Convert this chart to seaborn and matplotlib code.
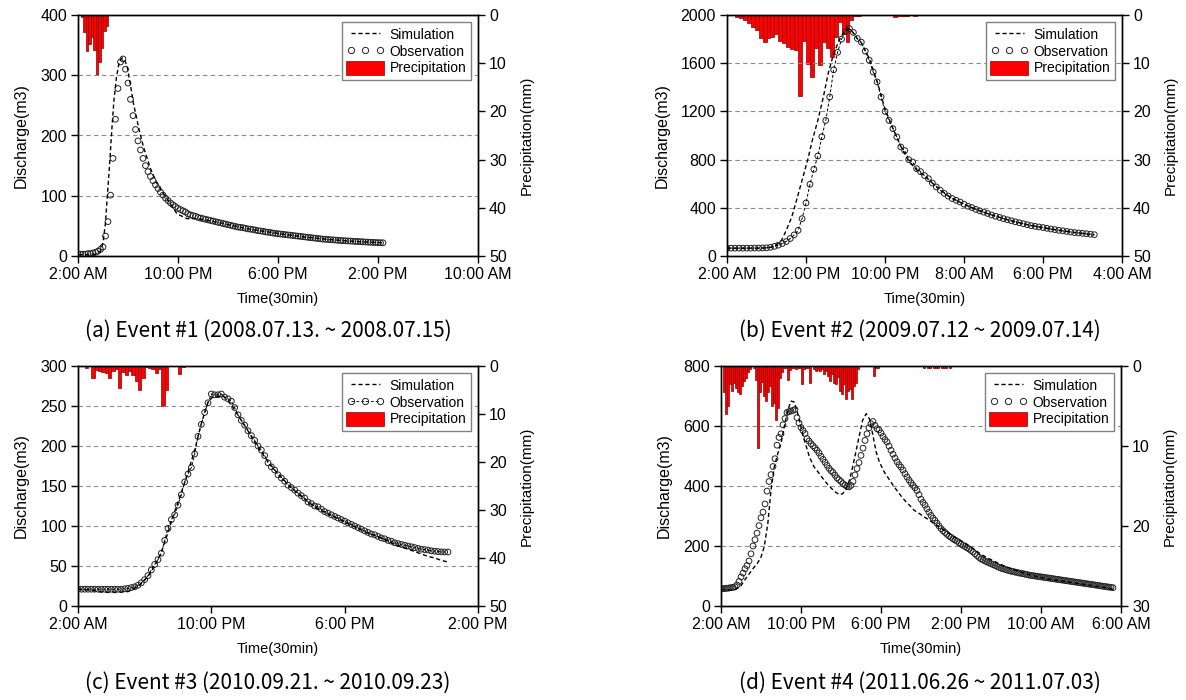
import numpy as np
import pandas as pd
import seaborn as sns
import matplotlib.pyplot as plt
from matplotlib.lines import Line2D
from matplotlib.patches import Patch

# ---- Event #1 (2008.07.13 ~ 2008.07.15), half-hourly observations from t=0 ----
a_obs = [3, 3, 3, 3, 4, 4, 5, 6, 8, 11, 15, 33, 57, 101, 162, 227, 278, 322, 327, 310,
         287, 260, 233, 210, 191, 176, 162, 150, 140, 132, 125, 118, 112, 106, 101, 96, 92, 88, 85, 82,
         79, 77, 75, 73, 70, 68, 67, 66, 64, 63, 62, 61, 60, 59, 58, 57, 56, 55, 54, 53,
         52, 51, 50, 49, 48, 47.5, 47, 46, 45, 44.5, 44, 43, 42, 41.5, 41, 40, 39.5, 39, 38, 37.5,
         37, 36.5, 36, 35.5, 35, 34.5, 34, 33.5, 33, 32.5, 32, 31.5, 31, 30.5, 30, 29.5, 29, 28.5, 28, 27.8,
         27.5, 27, 26.8, 26.5, 26, 25.8, 25.5, 25.2, 25, 24.8, 24.5, 24.2, 24, 23.8, 23.5, 23.3, 23, 22.8, 22.6, 22.4,
         22.2, 22, 22]
a_sim_t = [0, 2, 3.5, 4.5, 5, 5.5, 5.8, 6.3, 6.8, 7.2, 7.7, 8.2, 8.8, 9.3, 9.8, 10.5, 11.1, 12.1, 13.1, 14.5,
           15.8, 17.8, 19.8, 21.8, 24, 26, 28, 30, 34, 38, 42, 46, 50, 54, 58, 61]
a_sim_q = [2, 2, 3, 8, 22, 55, 92, 150, 214, 260, 297, 320, 329, 325, 316, 283, 253, 214, 181, 145,
           120, 95, 70, 62, 62, 59, 56, 52, 45, 40, 35, 31, 27.5, 25, 23, 22]
a_rain = [0, 0.5, 3.5, 7.5, 6.0, 4.5, 7.2, 12.5, 9.7, 6.9, 3.3, 2.3]
a_time_labels = ['2:00 AM', '10:00 PM', '6:00 PM', '2:00 PM', '10:00 AM']

# ---- Event #2 (2009.07.12 ~ 2009.07.14) ----
b_obs = [65, 65, 65, 65, 65, 65, 65, 66, 66, 67, 68, 72, 80, 90, 104, 120, 145, 175, 213, 310,
         440, 595, 720, 830, 990, 1125, 1320, 1545, 1690, 1800, 1862, 1887, 1855, 1805, 1775, 1700, 1625, 1527, 1445, 1320,
         1200, 1125, 1057, 988, 905, 875, 800, 780, 725, 700, 668, 642, 605, 573, 545, 520, 497, 477, 462, 448,
         430, 413, 402, 387, 375, 364, 353, 340, 330, 320, 310, 301, 292, 284, 276, 268, 260, 252, 246, 241,
         236, 230, 224, 219, 213, 209, 204, 199, 194, 191, 188, 185, 181, 177]
b_sim_t = [0, 4, 5, 5.5, 6.2, 6.9, 7.5, 8.2, 8.8, 9.5, 10.2, 10.8, 11.5, 12.2, 12.8, 13.5, 14.2, 14.8, 15.3, 15.7,
           16.4, 17, 18, 19, 20, 21, 22, 23, 24, 25, 26, 27, 28, 29, 30, 31, 32, 33, 34, 36,
           38, 40, 42, 44, 46.5]
b_sim_q = [65, 65, 67, 72, 88, 130, 213, 324, 462, 628, 794, 960, 1126, 1320, 1513, 1679, 1790, 1859, 1887, 1878,
           1810, 1770, 1640, 1450, 1220, 1060, 910, 790, 715, 665, 605, 550, 500, 462, 430, 402, 375, 352, 330, 292,
           260, 235, 213, 195, 175]
b_rain = [0, 0, 0.5, 0.7, 1.0, 1.7, 2.4, 3.1, 4.8, 5.7, 4.8, 4.5, 4.0, 5.4, 5.9, 6.6, 7.1, 7.3, 16.9, 5.4,
          10.2, 12.8, 6.9, 10.4, 5.5, 6.9, 8.8, 4.5, 1.4, 3.8, 5.7, 1.0, 0.3, 0.2, 0.1, 0, 0, 0, 0, 0,
          0, 0, 0.5, 0.3, 0.2, 0.2, 0, 0.3]
b_time_labels = ['2:00 AM', '12:00 PM', '10:00 PM', '8:00 AM', '6:00 PM', '4:00 AM']

# ---- Event #3 (2010.09.21 ~ 2010.09.23) ----
c_obs = [21, 21, 21, 21, 21, 21, 21, 21, 21, 21, 21, 21, 21, 21, 21.5, 22, 23, 24, 26, 29,
         33, 38, 45, 52, 58, 66, 82, 97, 108, 114, 126, 139, 155, 165, 173, 190, 212, 227, 242, 254,
         265, 264, 264, 265, 261, 259, 256, 248, 239, 232, 226, 219, 213, 207, 200, 195, 188, 179, 174, 170,
         164, 160, 156, 151, 148, 145, 141, 138, 135, 130, 128, 125, 124, 121, 118, 116, 114, 112, 110, 108,
         106, 104, 102, 100, 98, 96, 94, 92, 90, 89, 87, 85, 84, 82, 81, 79, 78, 77, 76, 75,
         74, 73, 72, 71, 70.5, 70, 69, 68.5, 68, 67.7, 67.5, 67.5]
c_sim_t = [0, 2, 3, 4, 6, 7.5, 8.5, 9.5, 10.5, 11.5, 12.5, 13.5, 14.5, 15.5, 16.5, 17.5, 18.5, 19.5, 20.3, 21,
           21.8, 22.5, 23.5, 24.5, 25.5, 26.5, 27.5, 28.5, 29.5, 30.5, 31.5, 32.5, 33.5, 34.5, 35.5, 36.5, 37.5, 38.5, 39.5, 40.5,
           41.5, 42.5, 43.5, 44.5, 45.5, 46.5, 47.5, 48.5, 49.5, 50.5, 51.5, 52.5, 53.5, 54.5, 55.5]
c_sim_q = [21, 20, 18, 17, 17, 18, 22, 28, 37, 50, 67, 92, 118, 142, 167, 195, 228, 255, 262, 262,
           262, 258, 245, 232, 219, 205, 192, 181, 170, 161, 152, 144, 137, 130, 124, 119, 115, 111, 107, 103,
           99, 95, 91, 88, 85, 81, 77, 74, 71, 68, 65, 62, 60, 57, 55]
c_rain = [0, 0, 0.4, 0, 2.4, 0.8, 1.0, 1.2, 1.5, 2.6, 1.0, 0.6, 4.6, 1.3, 1.9, 1.0, 1.9, 3.1, 5.1, 2.4,
          0.3, 0.5, 0.6, 1.5, 0.6, 8.4, 4.9, 0, 0, 0, 1.7, 0.3]
c_time_labels = ['2:00 AM', '10:00 PM', '6:00 PM', '2:00 PM']

# ---- Event #4 (2011.06.26 ~ 2011.07.03) ----
d_obs = [58, 58, 58, 59, 60, 61, 62, 64, 70, 82, 97, 110, 124, 135, 150, 174, 200, 221, 243, 268,
         294, 313, 340, 383, 415, 438, 465, 491, 536, 562, 574, 604, 625, 645, 648, 650, 652, 655, 628, 610,
         595, 585, 575, 558, 550, 541, 534, 527, 519, 510, 499, 489, 479, 469, 459, 451, 445, 436, 427, 421,
         415, 408, 403, 399, 397, 402, 415, 437, 458, 478, 502, 526, 552, 574, 594, 607, 615, 602, 591, 587,
         577, 565, 555, 547, 533, 519, 506, 493, 481, 471, 463, 453, 441, 430, 420, 411, 402, 394, 385, 371,
         356, 345, 336, 324, 313, 302, 293, 285, 276, 267, 258, 251, 245, 239, 233, 229, 224, 220, 216, 211,
         206, 202, 198, 194, 190, 185, 180, 174, 168, 162, 157, 154, 150, 147, 144, 141, 138, 135, 132, 129,
         126, 124, 122, 120, 118, 116, 115, 113, 112, 110, 109, 108, 106, 105, 103, 102, 101, 100, 99, 98,
         97, 96, 95, 94, 93, 92, 91, 90, 89, 88, 87, 86, 85, 84, 83, 82, 81, 80, 79, 78,
         77, 76, 75, 74, 73, 72, 71, 70, 69, 68, 67, 66, 65, 64, 63, 62, 61]
d_sim_t = [0, 1, 2, 3, 4, 5, 6, 7, 8, 9, 10, 10.8, 11.7, 12.5, 13.3, 14.2, 15, 15.8, 16.7, 17.5,
           18.3, 19.2, 20, 20.7, 21.3, 22.1, 23.3, 24.6, 25.8, 27.1, 28.3, 29.6, 30.4, 31.3, 32.1, 32.9, 33.8, 34.6, 35.4, 36.3,
           37.1, 37.9, 38.8, 39.6, 40.8, 42.1, 43.3, 44.6, 45.8, 47.1, 48.3, 49.6, 50.8, 52.1, 53.3, 54.6, 55.8, 57.1, 58.3, 59.6,
           61, 63, 65, 67, 70, 73, 76, 79, 82, 85, 88, 91, 94, 96, 98]
d_sim_q = [55, 55, 53, 52, 58, 68, 88, 106, 125, 140, 163, 197, 274, 386, 463, 508, 541, 597, 652, 683,
           680, 641, 597, 558, 533, 497, 463, 441, 419, 399, 383, 371, 374, 391, 419, 463, 519, 569, 619, 641,
           624, 574, 513, 480, 447, 421, 397, 374, 354, 336, 319, 308, 297, 286, 274, 263, 252, 241, 230, 221,
           210, 192, 172, 158, 138, 122, 108, 98, 90, 84, 78, 72, 66, 62, 56]
d_rain = [0, 3.3, 6.0, 5.0, 2.3, 3.1, 2.1, 2.7, 3.3, 3.5, 2.5, 1.9, 1.5, 0.8, 0.4, 0, 0.2, 1.7, 10.3, 3.3,
          2.0, 3.7, 4.4, 3.3, 2.5, 5.0, 4.6, 6.8, 5.2, 1.5, 0.8, 0.3, 0.3, 1.7, 0.5, 0.3, 0.3, 0.4, 0.3, 0.3,
          2.3, 0.4, 0.3, 0.3, 2.1, 0, 0.4, 0.6, 0.5, 0.6, 0.4, 1.0, 0.6, 1.2, 1.9, 1.0, 2.1, 2.3, 1.4, 3.1,
          3.5, 2.3, 4.1, 3.1, 2.9, 4.1, 2.5, 2.1, 0.4, 0, 0, 0, 0, 0, 0, 0, 1.2, 0.2, 0.2, 0,
          0, 0, 0, 0, 0, 0, 0, 0, 0, 0, 0, 0, 0, 0, 0, 0, 0, 0, 0, 0,
          0, 0.2, 0, 0.3, 0.2, 0, 0.2, 0.3, 0.2, 0, 0.2, 0.3, 0.2, 0, 0.2]
d_time_labels = ['2:00 AM', '10:00 PM', '6:00 PM', '2:00 PM', '10:00 AM', '6:00 AM']

sns.set_theme(style="ticks")
plt.rcParams['font.family'] = ['Liberation Sans', 'DejaVu Sans']
plt.rcParams['axes.edgecolor'] = 'black'
plt.rcParams['axes.linewidth'] = 1.0
plt.rcParams['xtick.color'] = 'black'
plt.rcParams['ytick.color'] = 'black'
plt.rcParams['axes.labelcolor'] = 'black'
plt.rcParams['text.color'] = 'black'

fig = plt.figure(figsize=(11.86, 7.0), dpi=100)
W, H = 1186, 700
DASH = (0, (3, 2))


def draw_event(px, obs, sim_t, sim_q, rain, q_ticks, p_ticks, t_ticks, t_labels,
               caption, cap_x, cap_y, obs_dashed=False, legend_dashed=False):
    left, top, width, height = px
    ax = fig.add_axes([left / W, 1 - (top + height) / H, width / W, height / H])
    ax2 = ax.twinx()

    obs_df = pd.DataFrame({'t': np.arange(len(obs)) * 0.5, 'q': obs})
    sim_df = pd.DataFrame({'t': sim_t, 'q': sim_q})
    rain_df = pd.DataFrame({'t': np.arange(len(rain)) * 0.5 + 0.25, 'p': rain})

    # precipitation hangs from the top on the right axis
    sns.barplot(data=rain_df, x='t', y='p', native_scale=True, width=1, color='red',
                saturation=1, edgecolor='#8b0000', linewidth=0.5, errorbar=None, ax=ax2)
    ax2.set_ylim(p_ticks[-1], 0)
    ax2.set_yticks(p_ticks)
    ax2.set_xlabel('')
    ax2.set_ylabel('Precipitation(mm)', fontsize=11, labelpad=9)

    sns.lineplot(data=sim_df, x='t', y='q', ax=ax, color='black', lw=1,
                 linestyle=DASH, errorbar=None)
    if obs_dashed:
        sns.lineplot(data=obs_df, x='t', y='q', ax=ax, color='black', lw=0.7,
                     linestyle=DASH, errorbar=None)
    sns.scatterplot(data=obs_df, x='t', y='q', ax=ax, s=17, marker='o', linewidth=0.7)
    pts = ax.collections[-1]
    pts.set_facecolor('none')
    pts.set_edgecolor('#222222')

    ax.set_zorder(ax2.get_zorder() + 1)
    ax.patch.set_visible(False)

    ax.set_xlim(0, t_ticks[-1])
    ax.set_ylim(0, q_ticks[-1])
    ax.set_xticks(t_ticks, t_labels)
    ax.set_yticks(q_ticks)
    ax.yaxis.grid(True, color='#8a8a8a', linestyle=(0, (4, 3)), lw=0.8)
    ax.set_xlabel('Time(30min)', fontsize=10.5, labelpad=7)
    ax.set_ylabel('Discharge(m3)', fontsize=11.5, labelpad=8)
    for a in (ax, ax2):
        a.tick_params(direction='out', length=5, width=1, labelsize=11.5, pad=3)

    handles = [Line2D([], [], color='black', lw=1, linestyle=DASH),
               Line2D([], [], color='#222222', lw=0.7,
                      linestyle=DASH if legend_dashed else 'none',
                      marker='o', ms=4.5, mfc='none', mew=0.7),
               Patch(facecolor='red', edgecolor='#8b0000', lw=0.5)]
    ax.legend(handles, ['Simulation', 'Observation', 'Precipitation'], loc='upper right',
              numpoints=3, handlelength=2.7, handleheight=1.2, handletextpad=0.4,
              labelspacing=0.15, borderpad=0.35, borderaxespad=0.5, fancybox=False,
              framealpha=1, edgecolor='#808080', fontsize=10)

    fig.text(cap_x / W, 1 - cap_y / H, caption, ha='center', va='center', fontsize=15,
             family=['Noto Sans CJK KR', 'DejaVu Sans'])


draw_event((78, 15, 400, 241), a_obs, a_sim_t, a_sim_q, a_rain,
           [0, 100, 200, 300, 400], [0, 10, 20, 30, 40, 50], [0, 20, 40, 60, 80], a_time_labels,
           '(a) Event #1 (2008.07.13. ~ 2008.07.15)', 268, 331)
draw_event((727, 15, 395, 241), b_obs, b_sim_t, b_sim_q, b_rain,
           [0, 400, 800, 1200, 1600, 2000], [0, 10, 20, 30, 40, 50], [0, 10, 20, 30, 40, 50], b_time_labels,
           '(b) Event #2 (2009.07.12 ~ 2009.07.14)', 920, 331, obs_dashed=True)
draw_event((78, 366, 400, 240), c_obs, c_sim_t, c_sim_q, c_rain,
           [0, 50, 100, 150, 200, 250, 300], [0, 10, 20, 30, 40, 50], [0, 20, 40, 60], c_time_labels,
           '(c) Event #3 (2010.09.21. ~ 2010.09.23)', 268, 683, obs_dashed=True, legend_dashed=True)
draw_event((721, 366, 400, 240), d_obs, d_sim_t, d_sim_q, d_rain,
           [0, 200, 400, 600, 800], [0, 10, 20, 30], [0, 20, 40, 60, 80, 100], d_time_labels,
           '(d) Event #4 (2011.06.26 ~ 2011.07.03)', 920, 683)

fig.savefig('out.png', dpi=100)
